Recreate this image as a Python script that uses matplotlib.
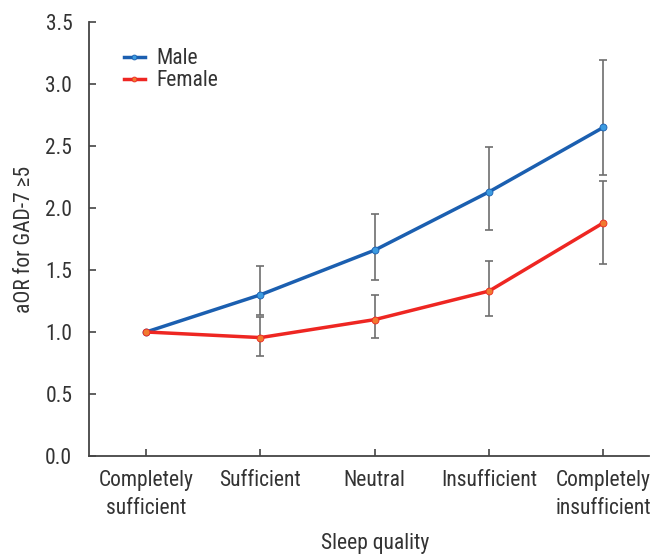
import numpy as np
import matplotlib.pyplot as plt
from matplotlib import font_manager

categories = ["Completely\nsufficient", "Sufficient", "Neutral", "Insufficient", "Completely\ninsufficient"]
male = [1.0, 1.30, 1.66, 2.13, 2.65]
male_lo = [1.0, 1.14, 1.42, 1.82, 2.27]
male_hi = [1.0, 1.53, 1.95, 2.49, 3.19]
female = [1.0, 0.955, 1.10, 1.33, 1.88]
female_lo = [1.0, 0.81, 0.95, 1.13, 1.55]
female_hi = [1.0, 1.12, 1.30, 1.57, 2.22]

# condensed face if one is around
names = {f.name for f in font_manager.fontManager.ttflist}
fam = "Roboto"
for cand in ["Roboto Condensed", "Fira Sans Condensed", "IBM Plex Sans Condensed", "Archivo Narrow"]:
    if cand in names:
        fam = cand
        break
plt.rcParams['font.family'] = [fam, 'DejaVu Sans']

fig = plt.figure(figsize=(6.51, 5.54), dpi=100)
ax = fig.add_axes([89 / 651, (554 - 456) / 554, (649 - 89) / 651, (456 - 22) / 554])

x = np.arange(len(categories))
grey = "#6e6e6e"
m = np.array(male)
f = np.array(female)
ax.errorbar(x[1:], m[1:], yerr=[m[1:] - np.array(male_lo[1:]), np.array(male_hi[1:]) - m[1:]],
            fmt="none", ecolor=grey, elinewidth=1.2, capsize=3, capthick=1.2, zorder=1)
ax.errorbar(x[1:], f[1:], yerr=[f[1:] - np.array(female_lo[1:]), np.array(female_hi[1:]) - f[1:]],
            fmt="none", ecolor=grey, elinewidth=1.2, capsize=3, capthick=1.2, zorder=1)

ax.plot(x, male, color="#1b5fb0", linewidth=2.5, marker="o", markersize=5,
        markerfacecolor="#3c9be0", markeredgecolor="#1b5fb0", markeredgewidth=0.6, label="Male", zorder=3)
ax.plot(x, female, color="#ee2622", linewidth=2.5, marker="o", markersize=5,
        markerfacecolor="#f07a30", markeredgecolor="#ee2622", markeredgewidth=0.6, label="Female", zorder=3)

ax.set_xlim(-0.5, 4.4)
ax.set_ylim(0, 3.5)
ax.set_yticks(np.arange(0, 3.51, 0.5))
ax.set_yticklabels([f"{v:.1f}" for v in np.arange(0, 3.51, 0.5)])
ax.set_xticks(x)
ax.set_xticklabels(categories, linespacing=1.45)
ax.tick_params(axis="both", direction="in", length=5, width=1.2, color="#444444",
               labelsize=15.5, labelcolor="#333333")
ax.tick_params(axis="x", pad=10)
ax.tick_params(axis="y", pad=12)
for s in ["top", "right"]:
    ax.spines[s].set_visible(False)
for s in ["left", "bottom"]:
    ax.spines[s].set_linewidth(1.3)
    ax.spines[s].set_color("#444444")

fig.text(375 / 651, 1 - 543 / 554, "Sleep quality", fontsize=15.5, color="#333333",
         ha="center", va="center")
ax.set_ylabel("aOR for GAD-7 \u22655", fontsize=15.5, color="#333333", labelpad=7)

leg = ax.legend(loc="upper left", bbox_to_anchor=(0.062, 0.94), frameon=False, fontsize=15.5,
                handlelength=1.0, handletextpad=0.5, labelspacing=0.05, labelcolor="#333333",
                markerscale=0.7, borderpad=0, borderaxespad=0)

fig.savefig("out.png", dpi=100)
